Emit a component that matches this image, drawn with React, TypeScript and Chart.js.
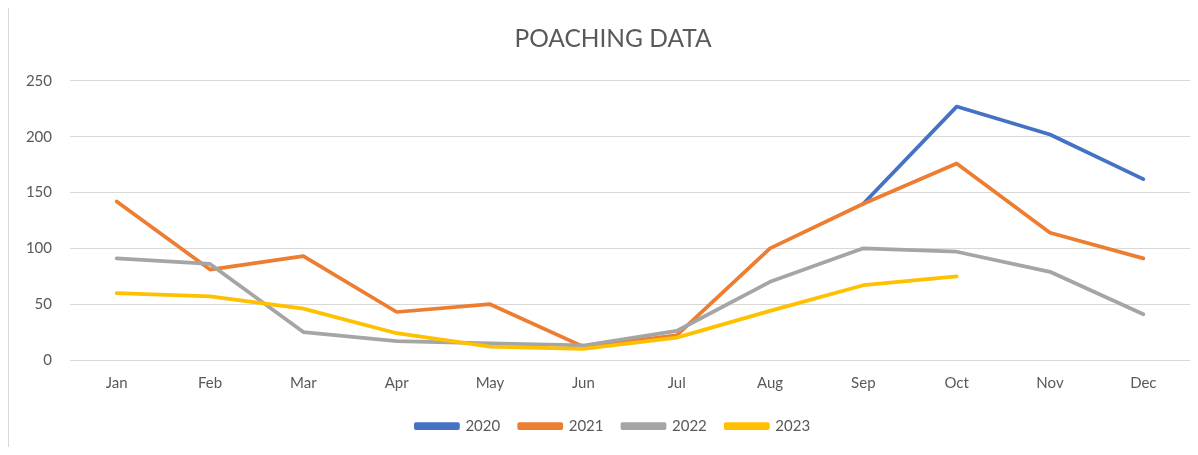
import React, { useEffect, useRef } from "react";
import { Chart, registerables } from "chart.js";

Chart.register(...registerables);

const months = ["Jan", "Feb", "Mar", "Apr", "May", "Jun", "Jul", "Aug", "Sep", "Oct", "Nov", "Dec"];
const s2020 = [null, null, null, null, null, null, null, null, 140, 227, 202, 162];
const s2021 = [142, 81, 93, 43, 50, 12, 22, 100, 140, 176, 114, 91];
const s2022 = [91, 86, 25, 17, 15, 13, 26, 70, 100, 97, 79, 41];
const s2023 = [60, 57, 46, 24, 12, 10, 20, 44, 67, 75, null, null];
const yTicks = [0, 50, 100, 150, 200, 250];

const FONT = "Lato, 'Open Sans', sans-serif";
const TEXT = "#595959";
const CW = 1208;
const CH = 439;

export default function App() {
  const ref = useRef<HTMLCanvasElement | null>(null);
  useEffect(() => {
    if (!ref.current) return;
    const mk = (label: string, data: (number | null)[], color: string, order: number) => ({
      label,
      data,
      borderColor: color,
      backgroundColor: color,
      borderWidth: 3.75,
      pointRadius: 0,
      pointHoverRadius: 0,
      tension: 0,
      borderJoinStyle: "round" as const,
      borderCapStyle: "round" as const,
      spanGaps: false,
      yAxisID: "y",
      order,
    });
    const chart = new Chart(ref.current, {
      type: "line",
      data: {
        labels: months,
        datasets: [
          mk("2020", s2020, "#4472C4", 4),
          mk("2021", s2021, "#ED7D31", 3),
          mk("2022", s2022, "#A5A5A5", 2),
          mk("2023", s2023, "#FFC000", 1),
        ],
      },
      options: {
        animation: false,
        responsive: false,
        maintainAspectRatio: false,
        layout: { padding: { left: 0, right: 0, top: 0, bottom: 3.5 } },
        plugins: {
          title: {
            display: true,
            text: "POACHING DATA",
            color: TEXT,
            font: { family: FONT, size: 24.5, weight: "normal" },
            padding: { top: 16, bottom: 27.5 },
          },
          legend: {
            position: "bottom",
            labels: {
              color: TEXT,
              font: { family: FONT, size: 15 },
              boxWidth: 42,
              boxHeight: 4,
              padding: 19,
              sort: (a: any, b: any) => a.datasetIndex - b.datasetIndex,
            },
          },
          tooltip: { enabled: false },
        },
        scales: {
          x: {
            offset: true,
            grid: { display: false, drawTicks: false },
            border: { display: false },
            ticks: { color: TEXT, font: { family: FONT, size: 15 }, padding: 14, maxRotation: 0 },
            afterFit: (scale: any) => {
              scale.height = 39.5;
            },
          },
          y: {
            min: 0,
            max: 250,
            afterBuildTicks: (scale: any) => {
              scale.ticks = yTicks.map((v) => ({ value: v }));
            },
            afterFit: (scale: any) => {
              scale.width = 61;
            },
            grid: { color: "#D9D9D9", lineWidth: 1, drawTicks: false },
            border: { display: false },
            ticks: { color: TEXT, font: { family: FONT, size: 15 }, padding: 18 },
          },
          yPad: {
            position: "right",
            display: true,
            grid: { display: false, drawTicks: false },
            border: { display: false },
            ticks: { display: false },
            afterFit: (scale: any) => {
              scale.width = 27;
            },
          },
        },
      },
    });
    return () => chart.destroy();
  }, []);
  return (
    <div
      style={{
        width: 1182,
        height: CH,
        borderLeft: "1px solid #D9D9D9",
        boxSizing: "border-box",
        overflow: "hidden",
      }}
    >
      <canvas ref={ref} width={CW} height={CH} style={{ display: "block", width: CW, height: CH }} />
    </div>
  );
}
